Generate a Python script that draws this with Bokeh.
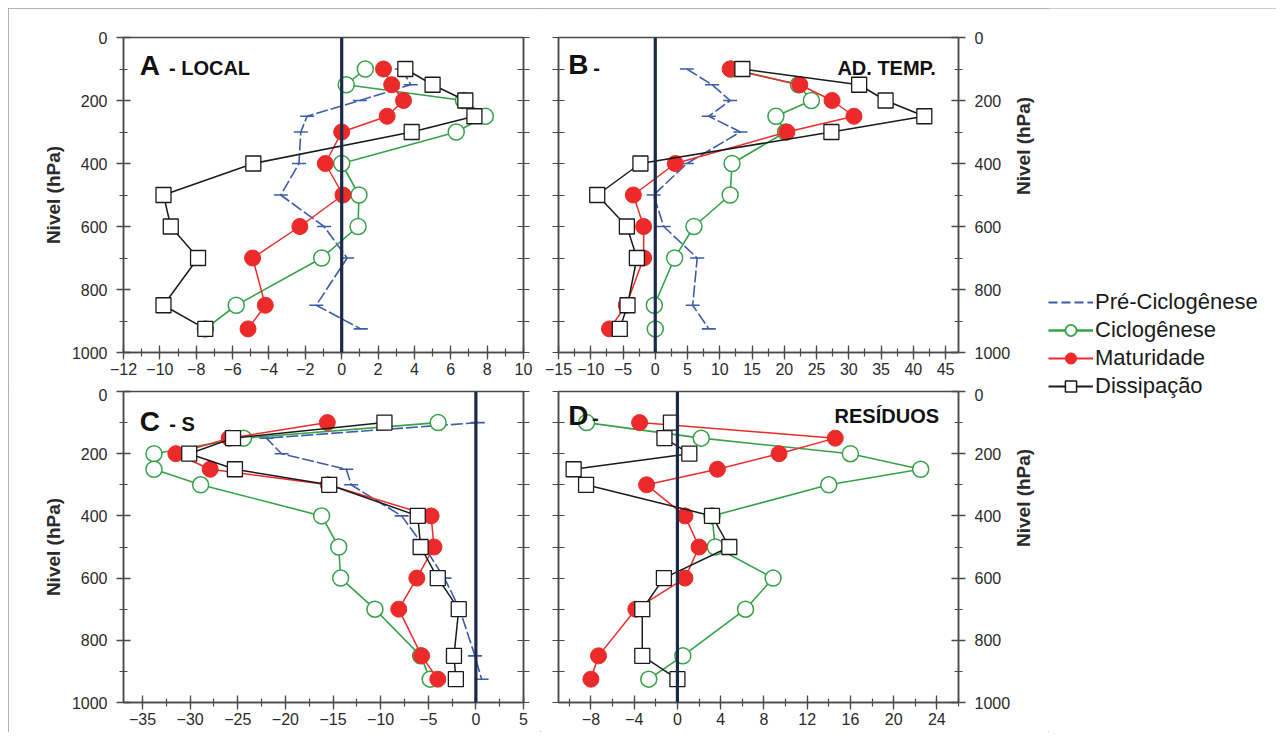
from bokeh.plotting import figure
from bokeh.models import (Range1d, LinearAxis, SingleIntervalTicker, FixedTicker, Span, Label,
                          Legend, LegendItem)
from bokeh.layouts import row, column
from bokeh.embed import file_html
from bokeh.resources import INLINE

# ---------------- data ----------------
levels = [100, 150, 200, 250, 300, 400, 500, 600, 700, 850, 925]

a_pre = [3.3, 3.8, 1.0, -1.9, -2.25, -2.35, -3.35, -0.97, 0.3, -1.4, 1.05]
a_cic = [1.3, 0.25, 6.7, 7.9, 6.3, 0.0, 0.95, 0.9, -1.1, -5.8, -7.5]
a_mat = [2.3, 2.75, 3.4, 2.5, 0.0, -0.9, 0.07, -2.3, -4.9, -4.2, -5.15]
a_dis = [3.5, 5.0, 6.8, 7.3, 3.85, -4.86, -9.8, -9.4, -7.9, -9.8, -7.5]

b_pre = [4.9, 8.8, 11.6, 8.3, 13.2, 4.9, -0.25, 1.3, 6.5, 5.8, 8.3]
b_cic = [11.8, 22.2, 24.2, 18.7, 20.2, 11.9, 11.6, 6.0, 3.0, -0.15, 0.0]
b_mat = [11.6, 22.4, 27.4, 30.8, 20.4, 3.1, -3.4, -1.8, -1.8, -4.5, -7.1]
b_dis = [13.5, 31.6, 35.7, 41.7, 27.3, -2.3, -9.0, -4.4, -2.85, -4.3, -5.5]

c_pre = [0.2, -22.0, -20.4, -13.6, -13.1, -7.8, -5.4, -3.3, -1.7, -0.1, 0.6]
c_cic = [-3.96, -24.4, -33.8, -33.8, -28.9, -16.2, -14.4, -14.2, -10.6, -5.8, -4.8]
c_mat = [-15.6, -25.9, -31.5, -27.9, -15.5, -4.7, -4.4, -6.2, -8.1, -5.7, -4.0]
c_dis = [-9.6, -25.5, -30.1, -25.3, -15.4, -6.1, -5.8, -4.0, -1.8, -2.3, -2.1]

d_cic = [-8.4, 2.2, 16.0, 22.5, 14.0, 3.2, 3.5, 8.85, 6.3, 0.5, -2.65]
d_mat = [-3.5, 14.6, 9.4, 3.7, -2.85, 0.7, 2.0, 0.7, -3.85, -7.3, -8.0]
d_dis = [-0.6, -1.2, 1.1, -9.6, -8.45, 3.2, 4.8, -1.25, -3.25, -3.25, 0.0]

series_names = ["Pré-Ciclogênese", "Ciclogênese", "Maturidade", "Dissipação"]
y_label = "Nivel (hPa)"
y_ticks_minor = [0, 100, 200, 300, 400, 500, 600, 700, 800, 900, 1000]

# ---------------- style ----------------
FONT = "Liberation Sans"
BLUE = "#3d5ca8"
GREEN = "#35a24a"
RED = "#ec2a2a"
BLACK = "#1a1a1a"
AXC = "#4a4a4a"
TXT = "#2a2a2a"


def style_axis(ax):
    ax.axis_line_color = AXC
    ax.axis_line_width = 1.5
    ax.major_tick_line_color = AXC
    ax.minor_tick_line_color = AXC
    ax.major_tick_line_width = 1.3
    ax.minor_tick_line_width = 1.2
    ax.major_tick_in = 7
    ax.major_tick_out = 7
    ax.minor_tick_in = 4
    ax.minor_tick_out = 4
    ax.major_label_text_font = FONT
    ax.major_label_text_color = TXT
    ax.major_label_text_font_size = "16px"
    ax.major_label_standoff = 3
    ax.axis_label_text_font = FONT
    ax.axis_label_text_font_style = "bold"
    ax.axis_label_text_font_size = "19px"
    ax.axis_label_text_color = TXT
    ax.axis_label_standoff = 4


def make_panel(xr, xint, w, h, left, right, top, bottom, label_side):
    p = figure(width=w, height=h, x_range=Range1d(xr[0], xr[1]), y_range=Range1d(1000, 0),
               output_backend="svg", toolbar_location=None,
               x_axis_location=None, y_axis_location=None,
               min_border_left=left, min_border_right=right,
               min_border_top=top, min_border_bottom=bottom)
    p.grid.visible = False
    p.outline_line_color = AXC
    p.outline_line_width = 1.5
    p.background_fill_color = "white"
    p.border_fill_color = "white"

    xb = LinearAxis(ticker=SingleIntervalTicker(interval=xint, num_minor_ticks=2))
    style_axis(xb)
    p.add_layout(xb, "below")

    for side in ("left", "right"):
        if side == label_side:
            ya = LinearAxis(ticker=SingleIntervalTicker(interval=200, num_minor_ticks=2))
            style_axis(ya)
            ya.axis_label = y_label
            if side == "right":
                ya.major_label_standoff = 9
                ya.axis_label_orientation = 1.5707963
                ya.axis_label_standoff = 10
            else:
                ya.major_label_standoff = 9
                ya.axis_label_standoff = 5
        else:
            ya = LinearAxis(ticker=FixedTicker(ticks=[], minor_ticks=y_ticks_minor))
            style_axis(ya)
            ya.minor_tick_in = 6
            ya.minor_tick_out = 6
        p.add_layout(ya, side)

    p.add_layout(Span(location=0, dimension="height", line_color="#1b2a47", line_width=3.2))
    return p


def draw(p, pre, cic, mat, dis):
    if pre is not None:
        p.line(pre, levels, line_color=BLUE, line_width=1.6, line_dash="12 3")
        p.scatter(pre, levels, marker="dash", size=14, line_color=BLUE, line_width=1.6)
    p.line(cic, levels, line_color=GREEN, line_width=1.6)
    p.scatter(cic, levels, marker="circle", size=16, fill_color="white", line_color=GREEN, line_width=1.5)
    p.line(mat, levels, line_color=RED, line_width=1.5)
    p.scatter(mat, levels, marker="circle", size=16, fill_color=RED, line_color=RED, line_width=1)
    p.line(dis, levels, line_color=BLACK, line_width=1.5)
    p.scatter(dis, levels, marker="square", size=15, fill_color="white", line_color=BLACK, line_width=1.3)


def title(p, x, y, text, size, align="left"):
    p.add_layout(Label(x=x, y=y, text=text, text_font=FONT, text_font_style="bold",
                       text_font_size=size, text_color="#111111", text_baseline="middle",
                       text_align=align))


# widths: A/C 532 (page 8->540), B/D 508 (540->1048), legend 228 (1048->1276)
# Panel A
pa = make_panel((-12, 10), 2, 532, 380, 115, 17, 29, 36, "left")
draw(pa, a_pre, a_cic, a_mat, a_dis)
title(pa, -11.1, 89, "A", "28px")
title(pa, -9.5, 98, "- LOCAL", "20px")

# Panel B
pb = make_panel((-15, 47), 5, 508, 380, 18, 90, 29, 36, "right")
draw(pb, b_pre, b_cic, b_mat, b_dis)
title(pb, -13.5, 87, "B", "28px")
title(pb, -9.6, 98, "-", "20px")
title(pb, 43.5, 96, "AD. TEMP.", "20px", align="right")

# Panel C
pc = make_panel((-37, 5), 5, 532, 344, 115, 17, 3, 30, "left")
draw(pc, c_pre, c_cic, c_mat, c_dis)
title(pc, -35.3, 97, "C", "28px")
title(pc, -32.2, 104, "- S", "20px")

# Panel D
pd = make_panel((-11, 26), 4, 508, 344, 18, 90, 3, 30, "right")
draw(pd, None, d_cic, d_mat, d_dis)
title(pd, -10.1, 78, "D", "28px")
title(pd, -7.9, 84, "-", "20px")
title(pd, 24.2, 80, "RESÍDUOS", "20px", align="right")

# Legend column (its glyph data lies outside the visible range)
pl = figure(width=228, height=724, x_range=Range1d(0, 1), y_range=Range1d(0, 1),
            output_backend="svg", toolbar_location=None,
            x_axis_location=None, y_axis_location=None,
            min_border=0)
pl.grid.visible = False
pl.outline_line_color = None
hx, hy = [5, 6], [5, 6]
r_pre = pl.line(hx, hy, line_color=BLUE, line_width=2.2, line_dash="9 4")
r_cic_l = pl.line(hx, hy, line_color=GREEN, line_width=2.4)
r_cic_m = pl.scatter(hx, hy, marker="circle", size=18, fill_color="white", line_color=GREEN, line_width=1.8)
r_mat_l = pl.line(hx, hy, line_color=RED, line_width=2.2)
r_mat_m = pl.scatter(hx, hy, marker="circle", size=19, fill_color=RED, line_color=RED)
r_dis_l = pl.line(hx, hy, line_color=BLACK, line_width=2.2)
r_dis_m = pl.scatter(hx, hy, marker="square", size=17, fill_color="white", line_color=BLACK, line_width=1.5)
legend = Legend(items=[
    LegendItem(label=series_names[0], renderers=[r_pre]),
    LegendItem(label=series_names[1], renderers=[r_cic_l, r_cic_m]),
    LegendItem(label=series_names[2], renderers=[r_mat_l, r_mat_m]),
    LegendItem(label=series_names[3], renderers=[r_dis_l, r_dis_m]),
], location=(0, 332), orientation="vertical", border_line_color=None,
    background_fill_alpha=0, padding=0, margin=0, spacing=0,
    glyph_width=45, glyph_height=28, label_height=28, label_standoff=2,
    label_text_font=FONT, label_text_font_size="22px", label_text_color="#1a1a1a")
pl.add_layout(legend)

layout = row(column(pa, pc), column(pb, pd), pl, margin=(8, 8, 8, 8),
             styles={"outline": "1px solid #9a9a9a", "outline-offset": "-1px"})

open("out.html", "w").write(file_html(layout, INLINE))
